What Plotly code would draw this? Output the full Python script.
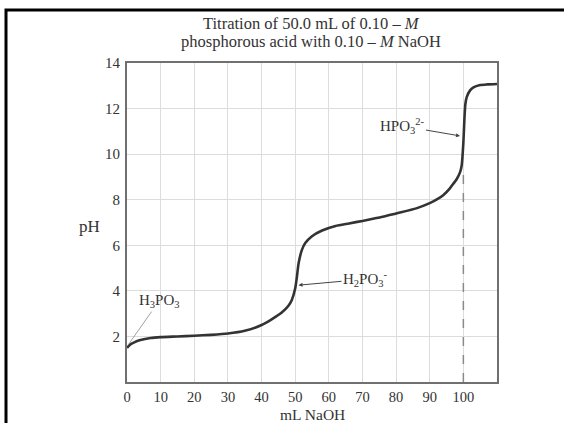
import plotly.graph_objects as go

# Titration curve values
ml_naoh = [0, 1, 2, 4, 7, 10, 15, 20, 25, 30, 35, 40, 43, 46, 48, 49, 50, 50.5, 51, 52,
           53, 55, 58, 62, 66, 70, 76, 80, 86, 90, 92, 94, 96, 97, 98, 99, 99.5, 100,
           100.3, 100.6, 101, 102, 103, 105, 107, 110]
ph = [1.5, 1.65, 1.73, 1.84, 1.93, 1.97, 2.0, 2.03, 2.07, 2.13, 2.25, 2.5, 2.75, 3.05, 3.35,
      3.6, 4.1, 4.6, 5.2, 5.8, 6.1, 6.4, 6.65, 6.85, 6.96, 7.07, 7.25, 7.4, 7.62, 7.85, 8.0,
      8.2, 8.5, 8.7, 8.9, 9.2, 9.5, 10.5, 11.5, 12.2, 12.5, 12.8, 12.93, 13.03, 13.06, 13.08]

x_ticks = [0, 10, 20, 30, 40, 50, 60, 70, 80, 90, 100]
y_ticks = [2, 4, 6, 8, 10, 12, 14]

equiv_x = [100, 100]
equiv_y = [0, 9.3]

title_lines = ["Titration of 50.0 mL of 0.10 – <i>M</i>",
               "phosphorous acid with 0.10 – <i>M</i> NaOH"]

font_family = "Liberation Serif, Times New Roman, serif"
text_color = "#333333"

fig = go.Figure()
fig.add_trace(go.Scatter(x=equiv_x, y=equiv_y, mode="lines",
                         line=dict(color="#8a8a8a", width=1.5, dash="dash"),
                         hoverinfo="skip", showlegend=False))
fig.add_trace(go.Scatter(x=ml_naoh, y=ph, mode="lines",
                         line=dict(color="#333333", width=2.6, shape="spline", smoothing=0.6),
                         showlegend=False))

W, H = 564, 423
L, R, T, B = 127, 497, 63, 382

def px(xp):
    return (xp - L) / (R - L)

def py(yp):
    return (B - yp) / (B - T)

fig.update_layout(
    width=W, height=H,
    margin=dict(l=L, r=W - R, t=T, b=H - B),
    paper_bgcolor="white", plot_bgcolor="white",
    font=dict(family=font_family, color=text_color, size=13),
    xaxis=dict(range=[0, 110], tickvals=x_ticks, showgrid=True, gridcolor="#dcdcdc",
               gridwidth=1, showline=True, linecolor="#707070", linewidth=2, mirror=True,
               zeroline=False, ticks="", tickfont=dict(size=14.5), ticklabelstandoff=1),
    yaxis=dict(range=[0, 14], tickvals=y_ticks, showgrid=True, gridcolor="#dcdcdc",
               gridwidth=1, showline=True, linecolor="#707070", linewidth=2, mirror=True,
               zeroline=False, ticks="", tickfont=dict(size=15), ticklabelstandoff=2),
    shapes=[dict(type="rect", xref="paper", yref="paper",
                 x0=px(6), x1=px(620), y0=py(470), y1=py(10),
                 line=dict(color="black", width=3), fillcolor="rgba(0,0,0,0)", layer="above")],
    annotations=[
        dict(text=title_lines[0], xref="paper", yref="paper", x=px(311), y=py(24),
             xanchor="center", yanchor="middle", showarrow=False, font=dict(size=16.5)),
        dict(text=title_lines[1], xref="paper", yref="paper", x=px(311), y=py(41),
             xanchor="center", yanchor="middle", showarrow=False, font=dict(size=16.5)),
        dict(text="pH", xref="paper", yref="paper", x=px(89), y=py(226),
             xanchor="center", yanchor="middle", showarrow=False, font=dict(size=17)),
        dict(text="mL NaOH", xref="paper", yref="paper", x=px(312), y=py(414),
             xanchor="center", yanchor="middle", showarrow=False, font=dict(size=15.5)),
        dict(text="H<sub>3</sub>PO<sub>3</sub>", x=0.3, y=1.62, xref="x", yref="y",
             showarrow=True, arrowhead=0, arrowwidth=0.8, arrowcolor="#888888",
             ax=31, ay=-44, font=dict(size=15)),
        dict(text="H<sub>2</sub>PO<sub>3</sub><sup>-</sup>", x=51.0, y=4.25, xref="x", yref="y",
             showarrow=True, arrowhead=2, arrowsize=0.8, arrowwidth=1, arrowcolor="#444444",
             ax=67, ay=-6, font=dict(size=15)),
        dict(text="HPO<sub>3</sub><sup>2-</sup>", x=99.0, y=10.8, xref="x", yref="y",
             showarrow=True, arrowhead=2, arrowsize=0.8, arrowwidth=1, arrowcolor="#444444",
             ax=-58, ay=-10, font=dict(size=15)),
    ],
)

fig.write_html("out.html", config={"displayModeBar": False},
               post_script="document.body.style.margin='0';document.body.style.overflow='hidden';")
